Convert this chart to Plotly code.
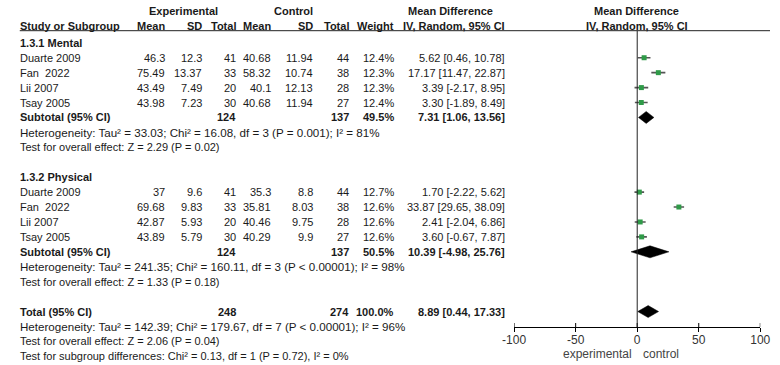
import plotly.graph_objects as go

# ---------------- data ----------------
studies = ["Duarte 2009", "Fan \u00a02022", "Lii 2007", "Tsay 2005"]

m_exp_mean = [46.3, 75.49, 43.49, 43.98]
m_exp_sd = [12.3, 13.37, 7.49, 7.23]
m_exp_n = [41, 33, 20, 30]
m_ctl_mean = [40.68, 58.32, 40.1, 40.68]
m_ctl_sd = [11.94, 10.74, 12.13, 11.94]
m_ctl_n = [44, 38, 28, 27]
m_weight = [12.4, 12.3, 12.3, 12.4]
m_md = [5.62, 17.17, 3.39, 3.30]
m_lo = [0.46, 11.47, -2.17, -1.89]
m_hi = [10.78, 22.87, 8.95, 8.49]

p_exp_mean = [37, 69.68, 42.87, 43.89]
p_exp_sd = [9.6, 9.83, 5.93, 5.79]
p_exp_n = [41, 33, 20, 30]
p_ctl_mean = [35.3, 35.81, 40.46, 40.29]
p_ctl_sd = [8.8, 8.03, 9.75, 9.9]
p_ctl_n = [44, 38, 28, 27]
p_weight = [12.7, 12.6, 12.6, 12.6]
p_md = [1.70, 33.87, 2.41, 3.60]
p_lo = [-2.22, 29.65, -2.04, -0.67]
p_hi = [5.62, 38.09, 6.86, 7.87]

# pooled: [exp total, ctrl total, weight, md, lo, hi]
sub_mental = [124, 137, 49.5, 7.31, 1.06, 13.56]
sub_physical = [124, 137, 50.5, 10.39, -4.98, 25.76]
total_all = [248, 274, 100.0, 8.89, 0.44, 17.33]

het_mental = "Heterogeneity: Tau\u00b2 = 33.03; Chi\u00b2 = 16.08, df = 3 (P = 0.001); I\u00b2 = 81%"
eff_mental = "Test for overall effect: Z = 2.29 (P = 0.02)"
het_physical = "Heterogeneity: Tau\u00b2 = 241.35; Chi\u00b2 = 160.11, df = 3 (P < 0.00001); I\u00b2 = 98%"
eff_physical = "Test for overall effect: Z = 1.33 (P = 0.18)"
het_total = "Heterogeneity: Tau\u00b2 = 142.39; Chi\u00b2 = 179.67, df = 7 (P < 0.00001); I\u00b2 = 96%"
eff_total = "Test for overall effect: Z = 2.06 (P = 0.04)"
subgroup_test = "Test for subgroup differences: Chi\u00b2 = 0.13, df = 1 (P = 0.72), I\u00b2 = 0%"

tick_vals = [-100, -50, 0, 50, 100]
tick_text = ["-100", "-50", "0", "50", "100"]
favours_left = "experimental"
favours_right = "control"

# ---------------- layout helpers ----------------
W, H = 780, 365
FONT = "Liberation Sans, Arial, sans-serif"
TXT = "#1a1a1a"
FS = 11
ROW_PX = 14.93
ROW0_PX = 42.8
AXIS_PX = 327.0
y_top = -ROW0_PX / ROW_PX
y_axis_row = (AXIS_PX - ROW0_PX) / ROW_PX


def row_of(px):
    return (px - ROW0_PX) / ROW_PX


def paper_y(row):
    return 1 - (ROW0_PX + row * ROW_PX) / H


col_left = 8
col_right = {"em": 157, "es": 195, "en": 231, "cm": 267, "cs": 310,
             "cn": 347, "w": 393, "ci": 507}

annotations = []


def txt(text, px_x, row, anchor="right", bold=False, color=TXT, size=FS, xref="paper"):
    if bold:
        text = "<b>" + text + "</b>"
    x = px_x / W if xref == "paper" else px_x
    annotations.append(dict(
        text=text, x=x, y=paper_y(row), xref=xref, yref="paper",
        xanchor=anchor, yanchor="middle", showarrow=False,
        font=dict(family=FONT, size=size, color=color), borderpad=0, borderwidth=0,
    ))


def fmt(v):
    return f"{v:g}"


def ci_str(md, lo, hi):
    return f"{md:.2f} [{lo:.2f}, {hi:.2f}]"


# headers
h1 = row_of(10.7)
h2 = row_of(25.7)
txt("Experimental", 176, h1, "center", bold=True)
txt("Control", 290, h1, "center", bold=True)
txt("Mean Difference", 451, h1, "center", bold=True)
txt("Mean Difference", 643, h1, "center", bold=True)
txt("Study or Subgroup", col_left, h2, "left", bold=True)
for key, lab in [("em", "Mean"), ("es", "SD"), ("en", "Total"), ("cm", "Mean"),
                 ("cs", "SD"), ("cn", "Total"), ("w", "Weight"), ("ci", "IV, Random, 95% CI")]:
    txt(lab, col_right[key], h2, "right", bold=True)
txt("IV, Random, 95% CI", 643, h2, "center", bold=True)

groups = [
    ("1.3.1 Mental", 0, m_exp_mean, m_exp_sd, m_exp_n, m_ctl_mean, m_ctl_sd, m_ctl_n,
     m_weight, m_md, m_lo, m_hi, sub_mental, het_mental, eff_mental),
    ("1.3.2 Physical", 9, p_exp_mean, p_exp_sd, p_exp_n, p_ctl_mean, p_ctl_sd, p_ctl_n,
     p_weight, p_md, p_lo, p_hi, sub_physical, het_physical, eff_physical),
]

ci_x, ci_y, sq_x, sq_y = [], [], [], []
diamonds = []

for (gname, g0, em, es, en, cm, cs, cn, w, md, lo, hi, sub, het, eff) in groups:
    txt(gname, col_left, g0, "left", bold=True)
    for i, s in enumerate(studies):
        r = g0 + 1 + i
        txt(s, col_left, r, "left")
        txt(fmt(em[i]), col_right["em"], r)
        txt(fmt(es[i]), col_right["es"], r)
        txt(fmt(en[i]), col_right["en"], r)
        txt(fmt(cm[i]), col_right["cm"], r)
        txt(fmt(cs[i]), col_right["cs"], r)
        txt(fmt(cn[i]), col_right["cn"], r)
        txt(f"{w[i]:.1f}%", col_right["w"], r)
        txt(ci_str(md[i], lo[i], hi[i]), col_right["ci"], r)
        ci_x += [lo[i], hi[i], None]
        ci_y += [r, r, None]
        sq_x.append(md[i])
        sq_y.append(r)
    rs = g0 + 5
    txt("Subtotal (95% CI)", col_left, rs, "left", bold=True)
    txt(str(sub[0]), col_right["en"], rs, bold=True)
    txt(str(sub[1]), col_right["cn"], rs, bold=True)
    txt(f"{sub[2]:.1f}%", col_right["w"], rs, bold=True)
    txt(ci_str(sub[3], sub[4], sub[5]), col_right["ci"], rs, bold=True)
    diamonds.append((sub[3], sub[4], sub[5], rs))
    txt(het, col_left, rs + 1, "left", size=11.6)
    txt(eff, col_left, rs + 2, "left")

rt = 18
txt("Total (95% CI)", col_left, rt, "left", bold=True)
txt(str(total_all[0]), col_right["en"], rt, bold=True)
txt(str(total_all[1]), col_right["cn"], rt, bold=True)
txt(f"{total_all[2]:.1f}%", col_right["w"], rt, bold=True)
txt(ci_str(total_all[3], total_all[4], total_all[5]), col_right["ci"], rt, bold=True)
diamonds.append((total_all[3], total_all[4], total_all[5], rt))
txt(het_total, col_left, rt + 1, "left", size=11.6)
txt(eff_total, col_left, rt + 2, "left")
txt(subgroup_test, col_left, rt + 3, "left")

# favours labels under axis
fav_row = row_of(353.5)
txt(favours_left, -4, fav_row, "right", color="#444", size=12, xref="x")
txt(favours_right, 4.5, fav_row, "left", color="#444", size=12, xref="x")

fig = go.Figure()

# CI lines
fig.add_trace(go.Scatter(x=ci_x, y=ci_y, mode="lines",
                         line=dict(color="#555555", width=1.6),
                         hoverinfo="skip", showlegend=False, cliponaxis=False))
# squares
fig.add_trace(go.Scatter(x=sq_x, y=sq_y, mode="markers",
                         marker=dict(symbol="square", size=5, color="#2f9a48",
                                     line=dict(width=0)),
                         showlegend=False, cliponaxis=False))
# diamonds
DH = 6.0 / ROW_PX
for (md, lo, hi, r) in diamonds:
    fig.add_trace(go.Scatter(x=[lo, md, hi, md, lo], y=[r, r - DH, r, r + DH, r],
                             mode="lines", fill="toself", fillcolor="black",
                             line=dict(color="black", width=0.5),
                             hoverinfo="skip", showlegend=False, cliponaxis=False))

# upward half of tick marks (axis ticks cross the line)
tk_x, tk_y = [], []
for t in tick_vals:
    tk_x += [t, t, None]
    tk_y += [y_axis_row, y_axis_row - 4.0 / ROW_PX, None]
fig.add_trace(go.Scatter(x=tk_x, y=tk_y, mode="lines", line=dict(color="black", width=1),
                         hoverinfo="skip", showlegend=False, cliponaxis=False))

shapes = [
    # header rule
    dict(type="line", xref="paper", yref="y", x0=8 / W, x1=1, y0=row_of(30.7), y1=row_of(30.7),
         line=dict(color="#222", width=1)),
    # line of no effect
    dict(type="line", xref="x", yref="y", x0=0, x1=0, y0=row_of(30.7), y1=y_axis_row,
         line=dict(color="#222", width=1)),
]

fig.update_layout(
    width=W, height=H,
    margin=dict(l=0, r=0, t=0, b=0),
    paper_bgcolor="white", plot_bgcolor="white",
    showlegend=False,
    annotations=annotations,
    shapes=shapes,
    xaxis=dict(domain=[516.7 / W, 770 / W], range=[-100, 100], showgrid=False,
               zeroline=False, showline=True, linecolor="black", linewidth=1,
               tickvals=tick_vals, ticktext=tick_text, ticks="outside", ticklen=4,
               tickcolor="black", tickfont=dict(family=FONT, size=12, color="#333"),
               ticklabelstandoff=-2, ticklabeloverflow="allow", fixedrange=True),
    yaxis=dict(domain=[(H - AXIS_PX) / H, 1], range=[y_axis_row, y_top], visible=False,
               fixedrange=True),
)

fig.write_html("out.html", config={"displayModeBar": False},
               post_script="document.body.style.margin='0';document.body.style.padding='0';")
